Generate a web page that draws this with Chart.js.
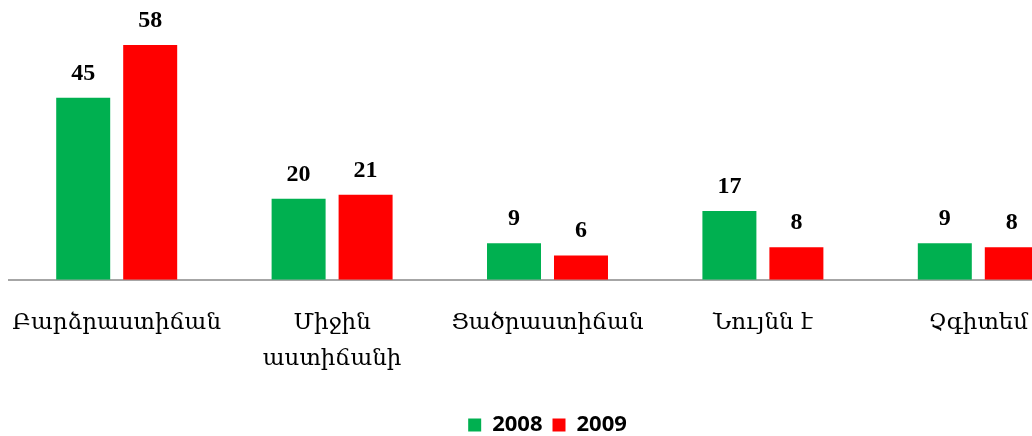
<!DOCTYPE html>
<html>
<head>
<meta charset="utf-8">
<script src="https://cdn.jsdelivr.net/npm/chart.js@4"></script>
<style>
  html, body { margin: 0; padding: 0; background: #fff; overflow: hidden; }
  #wrap { width: 1092px; height: 436px; }
</style>
</head>
<body>
<div id="wrap"><canvas id="chart-canvas"></canvas></div>
<script>
const categories = [
  "Բարձրաստիճան",
  ["Միջին", "աստիճանի"],
  "Ցածրաստիճան",
  "Նույնն է",
  "Չգիտեմ",
];
const years = ["2008", "2009"];
const values2008 = [45, 20, 9, 17, 9];
const values2009 = [58, 21, 6, 8, 8];

const green = "#00B050";
const red = "#FF0000";

// value labels above bars
const valueLabels = {
  id: "valueLabels",
  afterDatasetsDraw(chart) {
    const ctx = chart.ctx;
    ctx.save();
    ctx.font = "bold 24px 'Liberation Serif'";
    ctx.fillStyle = "#000";
    ctx.textAlign = "center";
    ctx.textBaseline = "alphabetic";
    chart.data.datasets.forEach((ds, i) => {
      chart.getDatasetMeta(i).data.forEach((bar, j) => {
        ctx.fillText(ds.data[j], bar.x, bar.y - 18);
      });
    });
    ctx.restore();
  },
};

// push the legend row lower without shrinking the gap between items
const legendLower = {
  id: "legendLower",
  beforeLayout(chart) {
    const legend = chart.legend;
    if (!legend || legend._lowered) return;
    const fit = legend.fit;
    legend.fit = function () {
      fit.call(this);
      this.height -= 10;
    };
    legend._lowered = true;
  },
};

const canvas = document.getElementById("chart-canvas");

new Chart(canvas, {
  type: "bar",
  data: {
    labels: categories,
    datasets: [
      {
        label: years[0],
        data: values2008,
        backgroundColor: green,
        barPercentage: 0.806,
        categoryPercentage: 0.622,
      },
      {
        label: years[1],
        data: values2009,
        backgroundColor: red,
        barPercentage: 0.806,
        categoryPercentage: 0.622,
      },
    ],
  },
  options: {
    responsive: true,
    maintainAspectRatio: false,
    animation: false,
    layout: {
      padding: { top: 37, left: 9, right: 6, bottom: 0 },
    },
    scales: {
      y: {
        display: false,
        min: 0,
        max: 60,
      },
      x: {
        grid: { display: false },
        border: { display: true, color: "#A6A6A6", width: 2 },
        ticks: {
          color: "#000",
          padding: 18,
          maxRotation: 0,
          autoSkip: false,
          font: { family: "'DejaVu Serif'", size: 23, lineHeight: 1.55 },
        },
        afterFit: (scale) => {
          scale.height += 9;
          scale.paddingLeft = 0;
          scale.paddingRight = 0;
        },
      },
    },
    plugins: {
      legend: {
        position: "bottom",
        labels: {
          boxWidth: 13,
          boxHeight: 13,
          color: "#000",
          padding: 10,
          font: { family: "'Open Sans'", size: 22, weight: "bold" },
        },
      },
      tooltip: { enabled: false },
    },
  },
  plugins: [valueLabels, legendLower],
});
</script>
</body>
</html>
